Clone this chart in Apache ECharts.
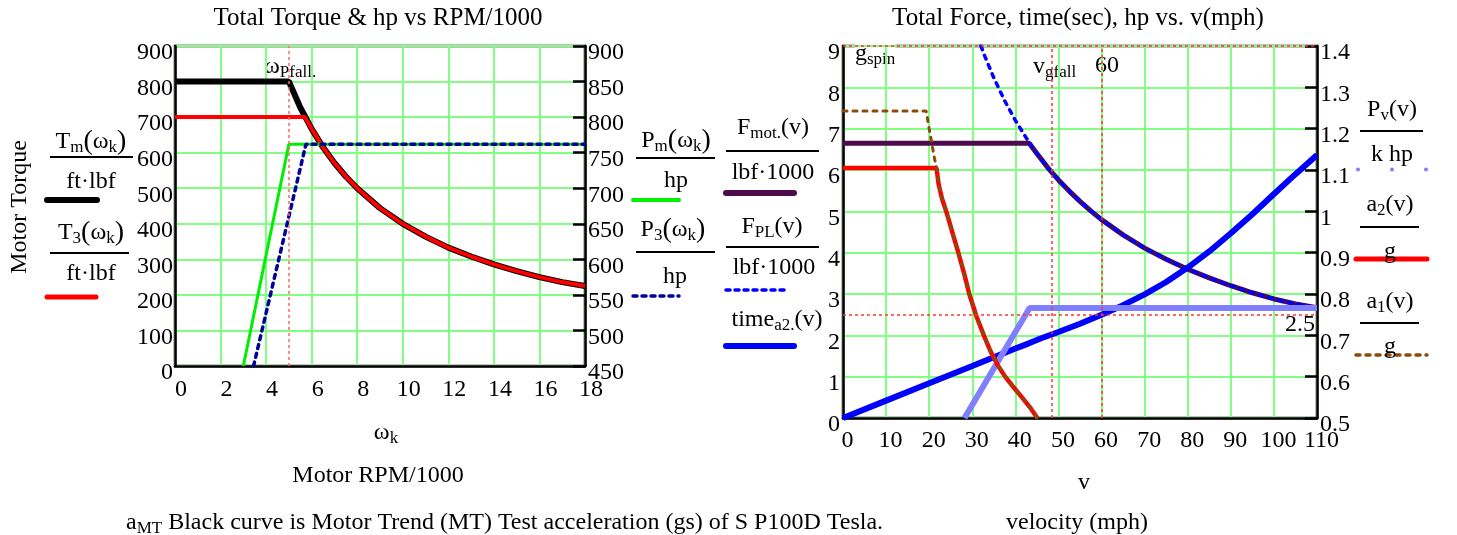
<!DOCTYPE html>
<html><head><meta charset="utf-8">
<script src="https://cdn.jsdelivr.net/npm/echarts@6/dist/echarts.min.js"></script>
<style>html,body{margin:0;padding:0;background:#fff}#c{width:1457px;height:535px}</style>
</head><body><div id="c"></div>
<script>
// ---------------- data ----------------
// Left chart: x = motor RPM/1000
const torqueMotor = [[0,800],[5,800],[5.5,727],[6,667],[6.5,615],[7,571],[7.5,533],[8,500],[9,444],[10,400],[11,364],[12,333],[13,308],[14,286],[15,267],[16,250],[17,236],[18,225]];
const torque3     = [[0,700],[5.71,700],[6,667],[6.5,615],[7,571],[7.5,533],[8,500],[9,444],[10,400],[11,364],[12,333],[13,308],[14,286],[15,267],[16,250],[17,236],[18,225]];
const powerMotor  = [[3.0,450],[5.0,762],[18,762]];
const power3      = [[3.45,450],[5.75,762],[18,762]];
const omegaPfall  = 5.0;
const rpmTicks    = [0,18,2];
const torqueTicks = [0,900,100];
const hpTicks     = [450,900,50];

// Right chart: x = velocity (mph)
const forceMotor = [[0,6.65],[43.2,6.65],[45,6.4],[47.5,6.06],[50,5.76],[52.5,5.49],[55,5.24],[57.5,5.01],[60,4.8],[65,4.43],[70,4.11],[75,3.84],[80,3.6],[85,3.39],[90,3.2],[95,3.03],[100,2.88],[105,2.76],[110,2.67]];
const forcePL    = [[32,9],[33,8.73],[35,8.23],[37.5,7.68],[40,7.2],[42.5,6.78],[45,6.4],[47.5,6.06],[50,5.76],[52.5,5.49],[55,5.24],[57.5,5.01],[60,4.8],[65,4.43],[70,4.11],[75,3.84],[80,3.6],[85,3.39],[90,3.2],[95,3.03],[100,2.88],[105,2.76],[110,2.67]];
const timeA2     = [[0,0],[10,0.42],[20,0.84],[30,1.26],[40,1.68],[43,1.8],[46,1.93],[50,2.08],[55,2.28],[60,2.5],[65,2.73],[70,2.99],[75,3.29],[80,3.64],[85,4.03],[90,4.47],[95,4.93],[100,5.42],[105,5.9],[110,6.36]];
const powerV     = [[28.2,0.5],[43.3,0.766],[110,0.766]];
const accel2     = [[0,1.105],[21.7,1.105],[22.2,1.065],[23,1.03],[24.1,0.995],[25.5,0.945],[26.9,0.895],[28.1,0.85],[29.3,0.8],[31,0.745],[32.8,0.697],[34.3,0.66],[35.9,0.628],[37.5,0.602],[39.3,0.578],[41.3,0.553],[43.3,0.527],[45.1,0.5]];
const accel1     = [[0,1.243],[19.3,1.243],[20,1.2],[20.6,1.165],[21.2,1.13],[21.7,1.105],[22.2,1.065],[23,1.03],[24.1,0.995],[25.5,0.945],[26.9,0.895],[28.1,0.85],[29.3,0.8],[31,0.745],[32.8,0.697],[34.3,0.66],[35.9,0.628],[37.5,0.602],[39.3,0.578],[41.3,0.553],[43.3,0.527],[45.1,0.5]];
const vGfall     = 48.4;
const v60        = 60;
const gSpinLevel = 9;
const t60Level   = 2.5;
const mphTicks   = [0,110,10];
const forceTicks = [0,9,1];
const ratioTicks = [0.5,1.4,0.1];

// ---------------- styling ----------------
const F = 'Liberation Serif';
const GRID = '#80ff80';
const chart = echarts.init(document.getElementById('c'), null, {renderer:'canvas'});

const lbl = {fontFamily:F, fontSize:24, color:'#000'};
function xAxisCfg(gi, t, margin, pad){
  return {type:'value', gridIndex:gi, min:t[0], max:t[1], interval:t[2],
    axisLine:{show:true, onZero:false, lineStyle:{color:'#000', width:2.5}},
    axisTick:{show:false},
    axisLabel:Object.assign({margin:margin, padding:[0,0,0,pad], showMinLabel:true, showMaxLabel:true, hideOverlap:false}, lbl),
    splitLine:{show:true, lineStyle:{color:GRID, width:2}}};
}
function yAxisCfg(gi, t, pos, split, margin, fmt){
  return {type:'value', gridIndex:gi, position:pos, min:t[0], max:t[1], interval:t[2],
    axisLine:{show:true, onZero:false, lineStyle:{color:'#000', width:2.5}},
    axisTick:{show:pos==='right', inside:true, length:12, lineStyle:{color:'#000', width:2.5}},
    axisLabel:Object.assign({margin:margin, verticalAlign:'top', lineHeight:14, showMinLabel:true, showMaxLabel:true, formatter:fmt}, lbl),
    splitLine:{show:split, lineStyle:{color:GRID, width:2}}};
}
function line(data, xi, yi, color, width, dash){
  return {type:'line', data:data, xAxisIndex:xi, yAxisIndex:yi, showSymbol:false, symbol:'none',
    animation:false, silent:true,
    lineStyle:{color:color, width:width, type:dash||'solid', cap: dash ? 'round':'butt'}};
}
function markSeries(xi, yi, anchor, lines, color){
  return {type:'line', xAxisIndex:xi, yAxisIndex:yi, data:[anchor], showSymbol:false, symbol:'none',
    lineStyle:{width:0}, animation:false, silent:true,
    markLine:{silent:true, symbol:['none','none'], animation:false, label:{show:false},
      lineStyle:{color:color, type:[3,3], width:1.5}, data:lines}};
}

// ---------------- text helpers ----------------
const rich = {
  n:{fontFamily:F, fontSize:24, lineHeight:28, fill:'#000'},
  s:{fontFamily:F, fontSize:17, lineHeight:17, verticalAlign:'bottom', fill:'#000'},
  p:{fontFamily:F, fontSize:28, lineHeight:28, fill:'#000'},
  t:{fontFamily:F, fontSize:25, lineHeight:28, fill:'#000'}
};
function txt(x, y, text, align, rot, bg){
  const st = {text:text, rich:rich, fontFamily:F, fontSize:24, fill:'#000',
      align:align||'center', verticalAlign:'middle', textAlign:align||'center', textVerticalAlign:'middle'};
  if (bg) { st.backgroundColor = bg; }
  return {type:'text', x:x, y:y, rotation:rot||0, silent:true, style:st};
}
function bar(x1, x2, y){
  return {type:'line', silent:true, shape:{x1:x1,y1:y,x2:x2,y2:y}, style:{stroke:'#000', lineWidth:1.8}};
}
function sample(x1, x2, y, color, w, dash){
  return {type:'line', silent:true, shape:{x1:x1,y1:y,x2:x2,y2:y},
    style:{stroke:color, lineWidth:w, lineDash:dash||null, lineCap:'round'}};
}

const graphics = [
  // titles
  txt(378, 18, '{t|Total Torque & hp vs RPM/1000}'),
  txt(1078, 18, '{t|Total Force, time(sec), hp vs. v(mph)}'),
  // left chart legends (left side)
  txt(20, 207, '{n|Motor Torque}', 'center', Math.PI/2),
  txt(91, 142, '{n|T}{s|m}{p|(}{n|ω}{s|k}{p|)}'),
  bar(50, 133, 157),
  txt(91, 182, '{n|ft·lbf}'),
  sample(47, 97, 200, '#000', 6),
  txt(91, 233, '{n|T}{s|3}{p|(}{n|ω}{s|k}{p|)}'),
  bar(50, 129, 253),
  txt(91, 274, '{n|ft·lbf}'),
  sample(47, 96, 297, '#ff0000', 5),
  // left chart legends (right side)
  txt(676, 141, '{n|P}{s|m}{p|(}{n|ω}{s|k}{p|)}'),
  bar(636, 715, 158),
  txt(676, 181, '{n|hp}'),
  sample(633, 679, 200, '#00ee00', 4),
  txt(673, 230, '{n|P}{s|3}{p|(}{n|ω}{s|k}{p|)}'),
  bar(636, 715, 252),
  txt(675, 277, '{n|hp}'),
  sample(633, 679, 296, '#000099', 3.5, [4,5]),
  // left chart annotations & axis titles
  txt(264, 67, '{n|ω}{s|Pfall.}', 'left'),
  txt(386, 433, '{n|ω}{s|k}'),
  txt(378, 476, '{n|Motor RPM/1000}'),
  txt(126, 523, '{n|a}{s|MT}{n| Black curve is Motor Trend (MT) Test acceleration (gs) of S P100D Tesla.}', 'left'),
  // right chart legends (left side)
  txt(773, 128, '{n|F}{s|mot.}{n|(v)}'),
  bar(726, 819, 151),
  txt(773, 173, '{n|lbf·1000}'),
  sample(726, 794, 193, '#4d0a4d', 6),
  txt(772, 227, '{n|F}{s|PL}{n|(v)}'),
  bar(726, 819, 247),
  txt(774, 268, '{n|lbf·1000}'),
  sample(726, 787, 290, '#0000ff', 3.5, [4,5]),
  txt(777, 320, '{n|time}{s|a2.}{n|(v)}'),
  sample(726, 794, 346, '#0000ff', 6),
  // right chart legends (right side)
  txt(1392, 110, '{n|P}{s|v}{n|(v)}'),
  bar(1360, 1423, 131),
  txt(1392, 155, '{n|k hp}'),
  {type:'circle', silent:true, shape:{cx:1358, cy:169.5, r:2}, style:{fill:'#8080ff'}},
  {type:'circle', silent:true, shape:{cx:1392, cy:169.5, r:2}, style:{fill:'#8080ff'}},
  {type:'circle', silent:true, shape:{cx:1426, cy:169.5, r:2}, style:{fill:'#8080ff'}},
  txt(1390, 205, '{n|a}{s|2}{n|(v)}'),
  bar(1360, 1419, 227),
  sample(1356, 1427, 259, '#ff0000', 5),
  txt(1390, 252, '{n|g}'),
  txt(1390, 302, '{n|a}{s|1}{n|(v)}'),
  bar(1360, 1419, 323),
  sample(1356, 1427, 355, '#8a4a0a', 3.5, [4,6]),
  txt(1390, 347, '{n|g}'),
  // right chart annotations & axis titles
  txt(855, 54, '{n|g}{s|spin}', 'left', 0, '#fff'),
  txt(1033, 67, '{n|v}{s|gfall}', 'left'),
  txt(1107, 66, '{n|60}'),
  txt(1315, 325, '{n|2.5}', 'right'),
  txt(1084, 483, '{n|v}'),
  txt(1077, 523, '{n|velocity (mph)}')
];

const option = {
  animation:false,
  backgroundColor:'#fff',
  grid:[
    {left:175, top:46, width:410, height:320, show:true, borderColor:'#000', borderWidth:2.5, containLabel:false},
    {left:843, top:46, width:474, height:372, show:true, borderColor:'#000', borderWidth:2.5, containLabel:false}
  ],
  xAxis:[ xAxisCfg(0, rpmTicks, 12, 12), xAxisCfg(1, mphTicks, 11, 9) ],
  yAxis:[
    yAxisCfg(0, torqueTicks, 'left', true, 2),
    yAxisCfg(0, hpTicks, 'right', false, 3),
    yAxisCfg(1, forceTicks, 'left', true, 3),
    yAxisCfg(1, ratioTicks, 'right', false, 3, v => String(+v.toFixed(1)))
  ],
  series:[
    markSeries(0, 0, torqueMotor[0], [{xAxis:omegaPfall}], '#ff6666'),
    line(torqueMotor, 0, 0, '#000000', 6),
    line(torque3, 0, 0, '#ff0000', 4),
    line(powerMotor, 0, 1, '#00ee00', 3),
    line(power3, 0, 1, '#000099', 3.5, [4,5]),

    markSeries(1, 2, timeA2[0], [{xAxis:vGfall},{xAxis:v60},{yAxis:gSpinLevel},{yAxis:t60Level}], '#ff3333'),
    line(forceMotor, 1, 2, '#4d0a4d', 5),
    line(forcePL, 1, 2, '#0000ff', 3.5, [4,6]),
    line(timeA2, 1, 2, '#0000ff', 6),
    line(powerV, 1, 3, '#8080ff', 6),
    line(accel2, 1, 3, '#ff0000', 4.5),
    line(accel1, 1, 3, '#8a4a0a', 3, [4,6])
  ],
  graphic:graphics
};
chart.setOption(option);
</script>
</body></html>
